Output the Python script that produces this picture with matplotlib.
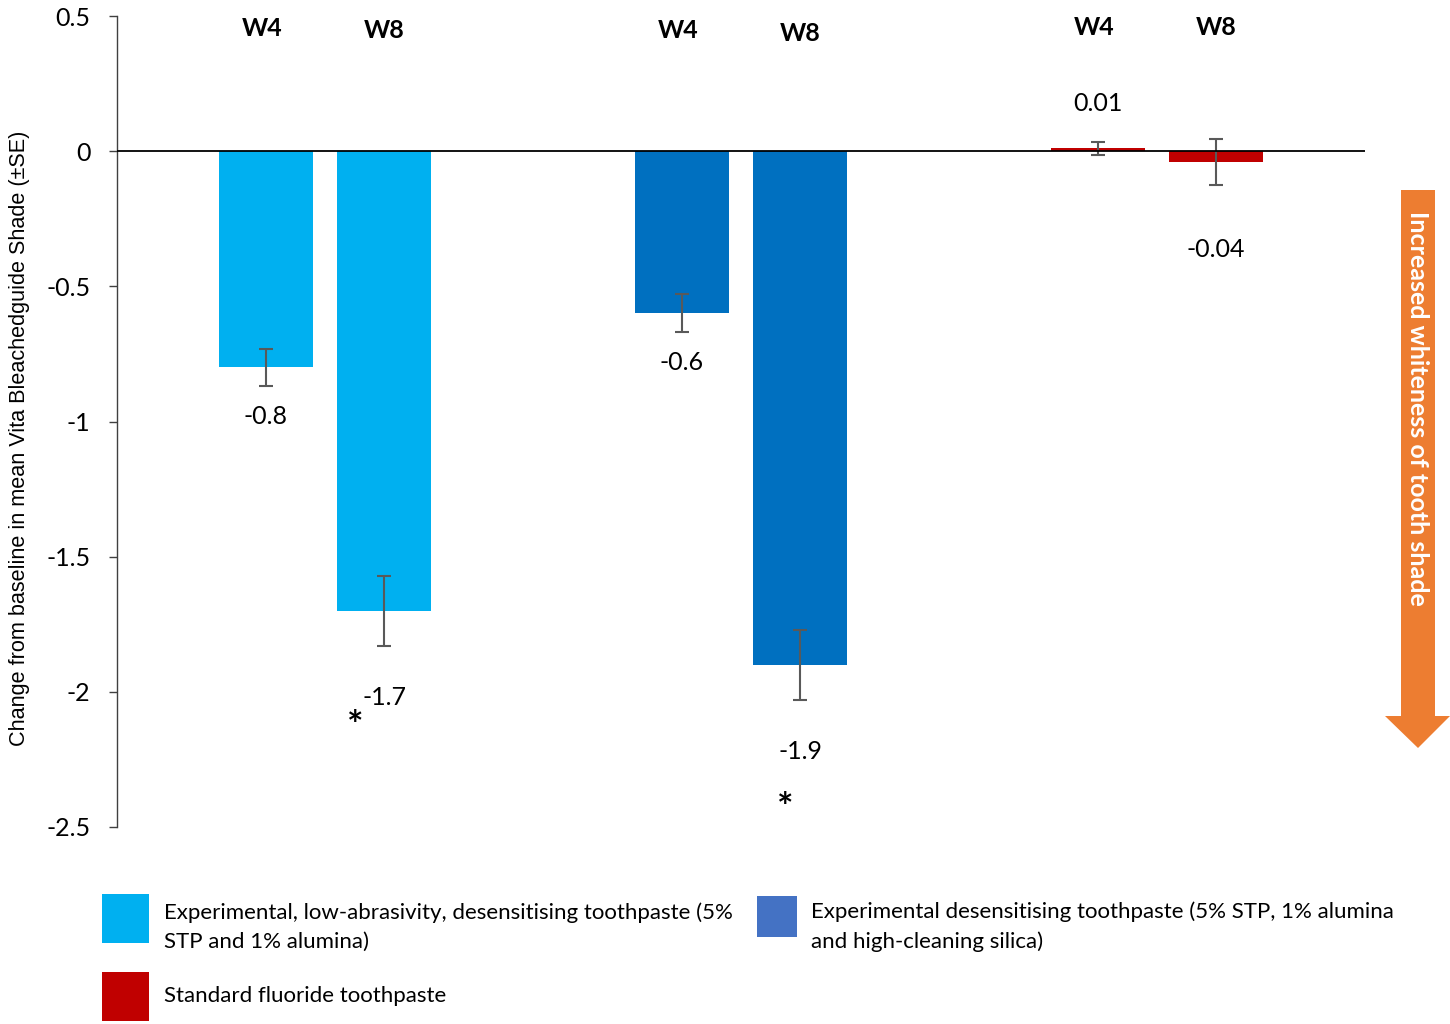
import matplotlib
matplotlib.use("Agg")
import matplotlib.pyplot as plt
from matplotlib.patches import Rectangle, Polygon

import numpy as np

# data
groups = [
    "Experimental, low-abrasivity, desensitising toothpaste (5%\nSTP and 1% alumina)",
    "Experimental desensitising toothpaste (5% STP, 1% alumina\nand high-cleaning silica)",
    "Standard fluoride toothpaste",
]
week4 = [-0.8, -0.6, 0.01]
week8 = [-1.7, -1.9, -0.04]
week4_se = [0.07, 0.07, 0.025]
week8_se = [0.13, 0.13, 0.085]
week4_labels = ["-0.8", "-0.6", "0.01"]
week8_labels = ["-1.7", "-1.9", "-0.04"]
significant_w8 = [True, True, False]
yticks = [0.5, 0, -0.5, -1, -1.5, -2, -2.5]
ytick_labels = ["0.5", "0", "-0.5", "-1", "-1.5", "-2", "-2.5"]

bar_colors = ["#00B0F0", "#0070C0", "#C00000"]
legend_colors = ["#00B0F0", "#4472C4", "#C00000"]
err_color = "#595959"
font = "Lato"

fig = plt.figure(figsize=(14.5, 10.24), dpi=100)
ax = fig.add_axes([117 / 1450, 1 - 827 / 1024, (1365 - 117) / 1450, (827 - 16) / 1024])

x = np.arange(len(groups)) + 0.5
off = 0.142
width = 0.226

ax.bar(x - off, week4, width, color=bar_colors, zorder=2)
ax.bar(x + off, week8, width, color=bar_colors, zorder=2)
ax.errorbar(x - off, week4, yerr=week4_se, fmt="none", ecolor=err_color,
            elinewidth=1.5, capsize=5, capthick=1.5, zorder=3)
ax.errorbar(x + off, week8, yerr=week8_se, fmt="none", ecolor=err_color,
            elinewidth=1.5, capsize=5, capthick=1.5, zorder=3)
ax.axhline(0, color="black", lw=1.3, zorder=4)

# value labels (offsets below / above the error bars)
w4_pos = [-0.98, -0.78, 0.178]
w8_pos = [-2.02, -2.22, -0.363]
head_y = [(0.455, 0.445), (0.447, 0.437), (0.458, 0.458)]
for i in range(len(groups)):
    ax.text(x[i] - off, w4_pos[i], week4_labels[i], ha="center", va="center",
            fontsize=18, family=font)
    ax.text(x[i] + off, w8_pos[i], week8_labels[i], ha="center", va="center",
            fontsize=18, family=font)
    ax.text(x[i] - off - 0.01, head_y[i][0], "W4", ha="center", va="center",
            fontsize=18, family=font, fontweight="bold")
    ax.text(x[i] + off, head_y[i][1], "W8", ha="center", va="center",
            fontsize=18, family=font, fontweight="bold")

star_pos = [(-0.07, -2.13), (-0.036, -2.43)]
for i in range(len(groups)):
    if significant_w8[i]:
        dx, yy = star_pos[i]
        ax.text(x[i] + off + dx, yy, "*", ha="center", va="center",
                fontsize=28, family=font, fontweight="bold")

ax.set_xlim(0, 3)
ax.set_ylim(-2.5, 0.5)
ax.set_yticks(yticks)
ax.set_yticklabels(ytick_labels, family=font, fontsize=18)
ax.set_xticks([])
ax.tick_params(axis="y", length=6, width=1, pad=13, color="#404040")
for s in ["top", "right", "bottom"]:
    ax.spines[s].set_visible(False)
ax.spines["left"].set_color("#404040")
ax.spines["left"].set_linewidth(1)

fig.text(20 / 1450, 1 - 438 / 1024,
         "Change from baseline in mean Vita Bleachedguide Shade (\u00b1SE)",
         rotation=90, ha="center", va="center", fontsize=15.6, family="Liberation Sans")

# orange arrow
W, H = 1450, 1024
arrow_px = [(1401, 190), (1435, 190), (1435, 716), (1450, 716), (1418, 748),
            (1385, 716), (1401, 716)]
fig.patches.append(Polygon([(px / W, 1 - py / H) for px, py in arrow_px],
                           closed=True, transform=fig.transFigure,
                           facecolor="#ED7D31", edgecolor="none"))
fig.text(1418 / W, 1 - 408 / H, "Increased whiteness of tooth shade",
         rotation=-90, ha="center", va="center", color="white",
         fontsize=18, family=font, fontweight="bold")

# legend
leg_boxes = [(102, 894, 47, 49), (757, 896, 40, 41), (102, 972, 47, 49)]
leg_text = [(164, 927.5), (811, 926.5), (164, 996)]
for i in range(len(groups)):
    bx, by, bw, bh = leg_boxes[i]
    fig.patches.append(Rectangle((bx / W, 1 - (by + bh) / H), bw / W, bh / H,
                                 transform=fig.transFigure,
                                 facecolor=legend_colors[i], edgecolor="none"))
    tx, ty = leg_text[i]
    fig.text(tx / W, 1 - ty / H, groups[i], ha="left", va="center",
             fontsize=16, family=font, linespacing=1.55)

fig.savefig("out.png", dpi=100)
plt.close(fig)
